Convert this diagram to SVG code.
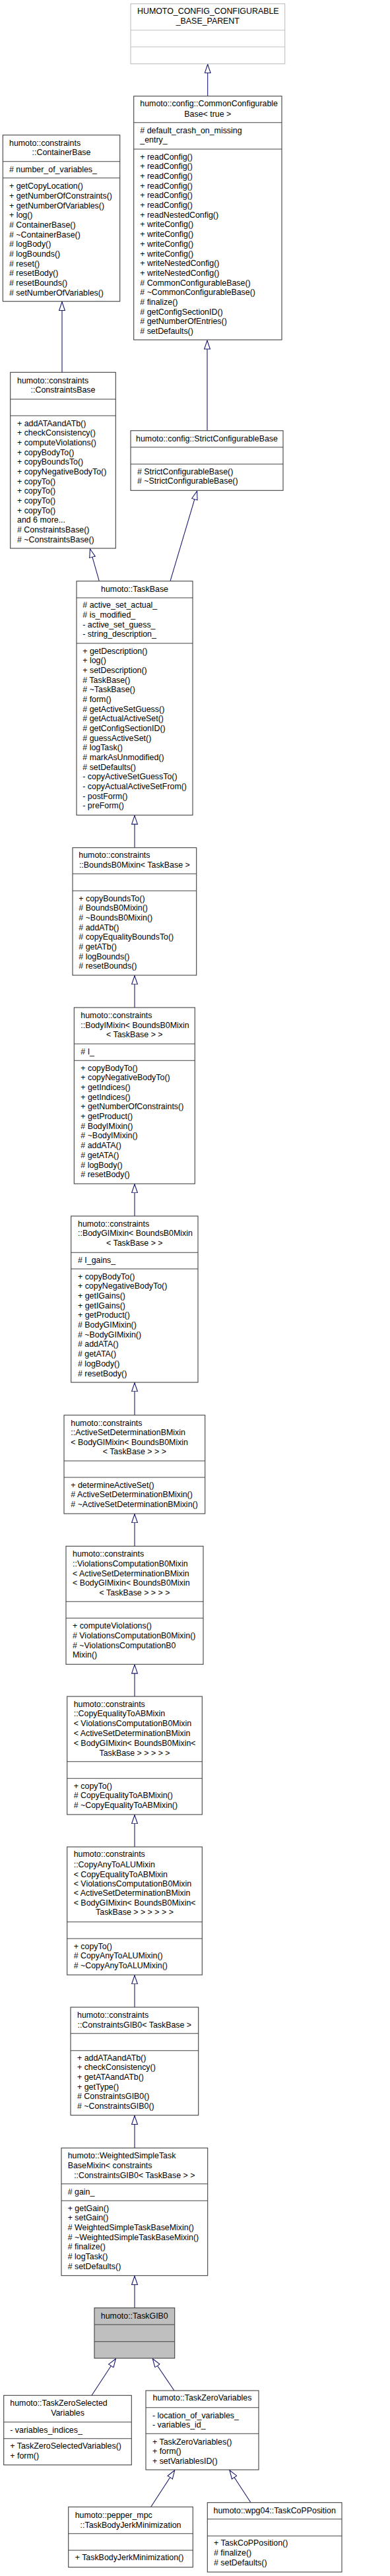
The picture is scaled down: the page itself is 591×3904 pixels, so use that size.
<svg xmlns="http://www.w3.org/2000/svg" width="591" height="3904" viewBox="0 0 591 3904">
<style>
.box{fill:#ffffff;stroke:#404040;stroke-width:1.1}
.ext{fill:#ffffff;stroke:#bfbfbf;stroke-width:1.1}
.cur{fill:#bfbfbf;stroke:#404040;stroke-width:1.1}
.sep{stroke:#404040;stroke-width:1.1}
.sepx{stroke:#bfbfbf;stroke-width:1.1}
text{font-family:"Liberation Sans",Arial,sans-serif;font-size:12.4px;fill:#000000}
.c{text-anchor:middle}
.edge{fill:none;stroke:#191970;stroke-width:1.1;marker-end:url(#inh)}
</style>
<defs>
<marker id="inh" viewBox="0 0 14 10" refX="14" refY="5" markerWidth="14" markerHeight="10" markerUnits="userSpaceOnUse" orient="auto">
<path d="M0.5,0.6 L13.5,5 L0.5,9.4 Z" fill="#ffffff" stroke="#191970" stroke-width="1.1"/>
</marker>
</defs>
<rect width="591" height="3904" fill="#ffffff"/>

<g id="connectors">
<path class="edge" d="M314.7,145.7 L314.7,97"/>
<path class="edge" d="M314,652.7 L314,515.5"/>
<path class="edge" d="M94,564.3 L94,457"/>
<path class="edge" d="M150.3,880.7 L136.3,831.3"/>
<path class="edge" d="M258,880.7 L298.7,743.8"/>
<path class="edge" d="M204,1284.7 L204,1235.6"/>
<path class="edge" d="M204,1527 L204,1478.3"/>
<path class="edge" d="M204,1843 L204,1794.3"/>
<path class="edge" d="M204,2144.7 L204,2095.3"/>
<path class="edge" d="M204,2343.3 L204,2294.3"/>
<path class="edge" d="M204,2571 L204,2522.6"/>
<path class="edge" d="M204,2799 L204,2750.3"/>
<path class="edge" d="M204,3042 L204,2993.3"/>
<path class="edge" d="M204,3255.3 L204,3206"/>
<path class="edge" d="M204,3497.7 L204,3449"/>
<path class="edge" d="M139,3630.3 L175.7,3574.3"/>
<path class="edge" d="M264,3623 L231,3574.3"/>
<path class="edge" d="M228.7,3799.3 L265,3743.3"/>
<path class="edge" d="M380,3792.7 L347.7,3743.3"/>
</g>

<g id="node-humoto-config-configurable-base-parent">
<rect class="ext" x="198" y="5.7" width="233.7" height="91"/>
<line class="sepx" x1="198" y1="45.7" x2="431.7" y2="45.7"/>
<line class="sepx" x1="198" y1="71" x2="431.7" y2="71"/>
<text x="208" y="21.2">HUMOTO_CONFIG_CONFIGURABLE</text>
<text class="c" x="314.8" y="36.2">_BASE_PARENT</text>
</g>

<g id="node-common-configurable-base">
<rect class="box" x="202.7" y="145.7" width="224.3" height="369.3"/>
<line class="sep" x1="202.7" y1="185.7" x2="427" y2="185.7"/>
<line class="sep" x1="202.7" y1="226" x2="427" y2="226"/>
<text x="212.3" y="161.2">humoto::config::CommonConfigurable</text>
<text class="c" x="314.8" y="176.5">Base&lt; true &gt;</text>
<text x="212.3" y="201.8"># default_crash_on_missing<tspan x="212.3" dy="14.67">_entry_</tspan></text>
<text x="212.3" y="241.8">+ readConfig()<tspan x="212.3" dy="14.67">+ readConfig()</tspan><tspan x="212.3" dy="14.67">+ readConfig()</tspan><tspan x="212.3" dy="14.67">+ readConfig()</tspan><tspan x="212.3" dy="14.67">+ readConfig()</tspan><tspan x="212.3" dy="14.67">+ readConfig()</tspan><tspan x="212.3" dy="14.67">+ readNestedConfig()</tspan><tspan x="212.3" dy="14.67">+ writeConfig()</tspan><tspan x="212.3" dy="14.67">+ writeConfig()</tspan><tspan x="212.3" dy="14.67">+ writeConfig()</tspan><tspan x="212.3" dy="14.67">+ writeConfig()</tspan><tspan x="212.3" dy="14.67">+ writeNestedConfig()</tspan><tspan x="212.3" dy="14.67">+ writeNestedConfig()</tspan><tspan x="212.3" dy="14.67"># CommonConfigurableBase()</tspan><tspan x="212.3" dy="14.67"># ~CommonConfigurableBase()</tspan><tspan x="212.3" dy="14.67"># finalize()</tspan><tspan x="212.3" dy="14.67"># getConfigSectionID()</tspan><tspan x="212.3" dy="14.67"># getNumberOfEntries()</tspan><tspan x="212.3" dy="14.67"># setDefaults()</tspan></text>
</g>

<g id="node-container-base">
<rect class="box" x="4.3" y="204.7" width="177.4" height="252"/>
<line class="sep" x1="4.3" y1="244.7" x2="181.7" y2="244.7"/>
<line class="sep" x1="4.3" y1="269.7" x2="181.7" y2="269.7"/>
<text x="14" y="220.5">humoto::constraints</text>
<text class="c" x="93" y="234.5">::ContainerBase</text>
<text x="14" y="260.5"># number_of_variables_</text>
<text x="14" y="286.2">+ getCopyLocation()<tspan x="14" dy="14.67">+ getNumberOfConstraints()</tspan><tspan x="14" dy="14.67">+ getNumberOfVariables()</tspan><tspan x="14" dy="14.67">+ log()</tspan><tspan x="14" dy="14.67"># ContainerBase()</tspan><tspan x="14" dy="14.67"># ~ContainerBase()</tspan><tspan x="14" dy="14.67"># logBody()</tspan><tspan x="14" dy="14.67"># logBounds()</tspan><tspan x="14" dy="14.67"># reset()</tspan><tspan x="14" dy="14.67"># resetBody()</tspan><tspan x="14" dy="14.67"># resetBounds()</tspan><tspan x="14" dy="14.67"># setNumberOfVariables()</tspan></text>
</g>

<g id="node-constraints-base">
<rect class="box" x="15.7" y="564.3" width="159.6" height="266.7"/>
<line class="sep" x1="15.7" y1="605" x2="175.3" y2="605"/>
<line class="sep" x1="15.7" y1="630" x2="175.3" y2="630"/>
<text x="26" y="580.5">humoto::constraints</text>
<text class="c" x="95.5" y="594.5">::ConstraintsBase</text>
<text x="26" y="645.5">+ addATAandATb()<tspan x="26" dy="14.67">+ checkConsistency()</tspan><tspan x="26" dy="14.67">+ computeViolations()</tspan><tspan x="26" dy="14.67">+ copyBodyTo()</tspan><tspan x="26" dy="14.67">+ copyBoundsTo()</tspan><tspan x="26" dy="14.67">+ copyNegativeBodyTo()</tspan><tspan x="26" dy="14.67">+ copyTo()</tspan><tspan x="26" dy="14.67">+ copyTo()</tspan><tspan x="26" dy="14.67">+ copyTo()</tspan><tspan x="26" dy="14.67">+ copyTo()</tspan><tspan x="26" dy="14.67">and 6 more...</tspan><tspan x="26" dy="14.67"># ConstraintsBase()</tspan><tspan x="26" dy="14.67"># ~ConstraintsBase()</tspan></text>
</g>

<g id="node-strict-configurable-base">
<rect class="box" x="198" y="652.7" width="231" height="90.6"/>
<line class="sep" x1="198" y1="677.7" x2="429" y2="677.7"/>
<line class="sep" x1="198" y1="703.3" x2="429" y2="703.3"/>
<text class="c" x="313.5" y="668.5">humoto::config::StrictConfigurableBase</text>
<text x="208" y="718.5"># StrictConfigurableBase()<tspan x="208" dy="14.67"># ~StrictConfigurableBase()</tspan></text>
</g>

<g id="node-task-base">
<rect class="box" x="116" y="880.7" width="176" height="354.6"/>
<line class="sep" x1="116" y1="906" x2="292" y2="906"/>
<line class="sep" x1="116" y1="975" x2="292" y2="975"/>
<text class="c" x="204" y="896.5">humoto::TaskBase</text>
<text x="125.3" y="921.2"># active_set_actual_<tspan x="125.3" dy="14.67"># is_modified_</tspan><tspan x="125.3" dy="14.67">- active_set_guess_</tspan><tspan x="125.3" dy="14.67">- string_description_</tspan></text>
<text x="125.3" y="990.5">+ getDescription()<tspan x="125.3" dy="14.67">+ log()</tspan><tspan x="125.3" dy="14.67">+ setDescription()</tspan><tspan x="125.3" dy="14.67"># TaskBase()</tspan><tspan x="125.3" dy="14.67"># ~TaskBase()</tspan><tspan x="125.3" dy="14.67"># form()</tspan><tspan x="125.3" dy="14.67"># getActiveSetGuess()</tspan><tspan x="125.3" dy="14.67"># getActualActiveSet()</tspan><tspan x="125.3" dy="14.67"># getConfigSectionID()</tspan><tspan x="125.3" dy="14.67"># guessActiveSet()</tspan><tspan x="125.3" dy="14.67"># logTask()</tspan><tspan x="125.3" dy="14.67"># markAsUnmodified()</tspan><tspan x="125.3" dy="14.67"># setDefaults()</tspan><tspan x="125.3" dy="14.67">- copyActiveSetGuessTo()</tspan><tspan x="125.3" dy="14.67">- copyActualActiveSetFrom()</tspan><tspan x="125.3" dy="14.67">- postForm()</tspan><tspan x="125.3" dy="14.67">- preForm()</tspan></text>
</g>

<g id="node-bounds-b0-mixin">
<rect class="box" x="110" y="1284.7" width="187.7" height="193.3"/>
<line class="sep" x1="110" y1="1324.3" x2="297.7" y2="1324.3"/>
<line class="sep" x1="110" y1="1350" x2="297.7" y2="1350"/>
<text x="119.3" y="1300.2">humoto::constraints</text>
<text class="c" x="203.8" y="1314.5">::BoundsB0Mixin&lt; TaskBase &gt;</text>
<text x="119.3" y="1365.5">+ copyBoundsTo()<tspan x="119.3" dy="14.67"># BoundsB0Mixin()</tspan><tspan x="119.3" dy="14.67"># ~BoundsB0Mixin()</tspan><tspan x="119.3" dy="14.67"># addATb()</tspan><tspan x="119.3" dy="14.67"># copyEqualityBoundsTo()</tspan><tspan x="119.3" dy="14.67"># getATb()</tspan><tspan x="119.3" dy="14.67"># logBounds()</tspan><tspan x="119.3" dy="14.67"># resetBounds()</tspan></text>
</g>

<g id="node-body-i-mixin">
<rect class="box" x="112.3" y="1527" width="183" height="267"/>
<line class="sep" x1="112.3" y1="1582" x2="295.3" y2="1582"/>
<line class="sep" x1="112.3" y1="1607.3" x2="295.3" y2="1607.3"/>
<text x="122.3" y="1542.5">humoto::constraints</text>
<text x="122.3" y="1557.5">::BodyIMixin&lt; BoundsB0Mixin</text>
<text class="c" x="203.8" y="1571.8">&lt; TaskBase &gt; &gt;</text>
<text x="122.3" y="1597.8"># I_</text>
<text x="122.3" y="1622.8">+ copyBodyTo()<tspan x="122.3" dy="14.67">+ copyNegativeBodyTo()</tspan><tspan x="122.3" dy="14.67">+ getIndices()</tspan><tspan x="122.3" dy="14.67">+ getIndices()</tspan><tspan x="122.3" dy="14.67">+ getNumberOfConstraints()</tspan><tspan x="122.3" dy="14.67">+ getProduct()</tspan><tspan x="122.3" dy="14.67"># BodyIMixin()</tspan><tspan x="122.3" dy="14.67"># ~BodyIMixin()</tspan><tspan x="122.3" dy="14.67"># addATA()</tspan><tspan x="122.3" dy="14.67"># getATA()</tspan><tspan x="122.3" dy="14.67"># logBody()</tspan><tspan x="122.3" dy="14.67"># resetBody()</tspan></text>
</g>

<g id="node-body-gi-mixin">
<rect class="box" x="107.7" y="1843" width="192.3" height="252"/>
<line class="sep" x1="107.7" y1="1898.3" x2="300" y2="1898.3"/>
<line class="sep" x1="107.7" y1="1923" x2="300" y2="1923"/>
<text x="118" y="1858.8">humoto::constraints</text>
<text x="118" y="1873.2">::BodyGIMixin&lt; BoundsB0Mixin</text>
<text class="c" x="203.8" y="1888.2">&lt; TaskBase &gt; &gt;</text>
<text x="118" y="1913.5"># I_gains_</text>
<text x="118" y="1938.8">+ copyBodyTo()<tspan x="118" dy="14.67">+ copyNegativeBodyTo()</tspan><tspan x="118" dy="14.67">+ getIGains()</tspan><tspan x="118" dy="14.67">+ getIGains()</tspan><tspan x="118" dy="14.67">+ getProduct()</tspan><tspan x="118" dy="14.67"># BodyGIMixin()</tspan><tspan x="118" dy="14.67"># ~BodyGIMixin()</tspan><tspan x="118" dy="14.67"># addATA()</tspan><tspan x="118" dy="14.67"># getATA()</tspan><tspan x="118" dy="14.67"># logBody()</tspan><tspan x="118" dy="14.67"># resetBody()</tspan></text>
</g>

<g id="node-active-set-determination-b-mixin">
<rect class="box" x="97" y="2144.7" width="213.7" height="149.3"/>
<line class="sep" x1="97" y1="2214" x2="310.7" y2="2214"/>
<line class="sep" x1="97" y1="2239" x2="310.7" y2="2239"/>
<text x="107.3" y="2160.5">humoto::constraints</text>
<text x="107.3" y="2174.5">::ActiveSetDeterminationBMixin</text>
<text x="107.3" y="2189.5">&lt; BodyGIMixin&lt; BoundsB0Mixin</text>
<text class="c" x="203.8" y="2203.8">&lt; TaskBase &gt; &gt; &gt;</text>
<text x="107.3" y="2254.8">+ determineActiveSet()<tspan x="107.3" dy="14.67"># ActiveSetDeterminationBMixin()</tspan><tspan x="107.3" dy="14.67"># ~ActiveSetDeterminationBMixin()</tspan></text>
</g>

<g id="node-violations-computation-b0-mixin">
<rect class="box" x="100" y="2343.3" width="208" height="179"/>
<line class="sep" x1="100" y1="2427.3" x2="308" y2="2427.3"/>
<line class="sep" x1="100" y1="2452.3" x2="308" y2="2452.3"/>
<text x="110" y="2358.8">humoto::constraints</text>
<text x="110" y="2373.5">::ViolationsComputationB0Mixin</text>
<text x="110" y="2388.5">&lt; ActiveSetDeterminationBMixin</text>
<text x="110" y="2402.8">&lt; BodyGIMixin&lt; BoundsB0Mixin</text>
<text class="c" x="204" y="2417.5">&lt; TaskBase &gt; &gt; &gt; &gt;</text>
<text x="110" y="2468.2">+ computeViolations()<tspan x="110" dy="14.67"># ViolationsComputationB0Mixin()</tspan><tspan x="110" dy="14.67"># ~ViolationsComputationB0</tspan><tspan x="110" dy="14.67">Mixin()</tspan></text>
</g>

<g id="node-copy-equality-to-ab-mixin">
<rect class="box" x="101.7" y="2571" width="204.6" height="179"/>
<line class="sep" x1="101.7" y1="2669.7" x2="306.3" y2="2669.7"/>
<line class="sep" x1="101.7" y1="2695.3" x2="306.3" y2="2695.3"/>
<text x="111.7" y="2586.8">humoto::constraints</text>
<text x="111.7" y="2601.2">::CopyEqualityToABMixin</text>
<text x="111.7" y="2616.2">&lt; ViolationsComputationB0Mixin</text>
<text x="111.7" y="2630.5">&lt; ActiveSetDeterminationBMixin</text>
<text x="111.7" y="2645.5">&lt; BodyGIMixin&lt; BoundsB0Mixin&lt;</text>
<text class="c" x="204" y="2660.5">TaskBase &gt; &gt; &gt; &gt; &gt;</text>
<text x="111.7" y="2710.5">+ copyTo()<tspan x="111.7" dy="14.67"># CopyEqualityToABMixin()</tspan><tspan x="111.7" dy="14.67"># ~CopyEqualityToABMixin()</tspan></text>
</g>

<g id="node-copy-any-to-alu-mixin">
<rect class="box" x="101.7" y="2799" width="204.6" height="194"/>
<line class="sep" x1="101.7" y1="2912.7" x2="306.3" y2="2912.7"/>
<line class="sep" x1="101.7" y1="2938" x2="306.3" y2="2938"/>
<text x="111.7" y="2814.2">humoto::constraints</text>
<text x="111.7" y="2829.5">::CopyAnyToALUMixin</text>
<text x="111.7" y="2844.5">&lt; CopyEqualityToABMixin</text>
<text x="111.7" y="2858.5">&lt; ViolationsComputationB0Mixin</text>
<text x="111.7" y="2873.2">&lt; ActiveSetDeterminationBMixin</text>
<text x="111.7" y="2887.8">&lt; BodyGIMixin&lt; BoundsB0Mixin&lt;</text>
<text class="c" x="204" y="2902.2">TaskBase &gt; &gt; &gt; &gt; &gt; &gt;</text>
<text x="111.7" y="2953.8">+ copyTo()<tspan x="111.7" dy="14.67"># CopyAnyToALUMixin()</tspan><tspan x="111.7" dy="14.67"># ~CopyAnyToALUMixin()</tspan></text>
</g>

<g id="node-constraints-gib0">
<rect class="box" x="107" y="3042" width="193.7" height="163.7"/>
<line class="sep" x1="107" y1="3081.7" x2="300.7" y2="3081.7"/>
<line class="sep" x1="107" y1="3107.7" x2="300.7" y2="3107.7"/>
<text x="117" y="3057.5">humoto::constraints</text>
<text class="c" x="203.8" y="3072.5">::ConstraintsGIB0&lt; TaskBase &gt;</text>
<text x="117" y="3122.8">+ addATAandATb()<tspan x="117" dy="14.67">+ checkConsistency()</tspan><tspan x="117" dy="14.67">+ getATAandATb()</tspan><tspan x="117" dy="14.67">+ getType()</tspan><tspan x="117" dy="14.67"># ConstraintsGIB0()</tspan><tspan x="117" dy="14.67"># ~ConstraintsGIB0()</tspan></text>
</g>

<g id="node-weighted-simple-task-base-mixin">
<rect class="box" x="93" y="3255.3" width="221.7" height="193.4"/>
<line class="sep" x1="93" y1="3309.7" x2="314.7" y2="3309.7"/>
<line class="sep" x1="93" y1="3335.3" x2="314.7" y2="3335.3"/>
<text x="102.7" y="3270.5">humoto::WeightedSimpleTask</text>
<text x="102.7" y="3285.5">BaseMixin&lt; constraints</text>
<text class="c" x="203.8" y="3300.5">::ConstraintsGIB0&lt; TaskBase &gt; &gt;</text>
<text x="102.7" y="3325.8"># gain_</text>
<text x="102.7" y="3350.5">+ getGain()<tspan x="102.7" dy="14.67">+ setGain()</tspan><tspan x="102.7" dy="14.67"># WeightedSimpleTaskBaseMixin()</tspan><tspan x="102.7" dy="14.67"># ~WeightedSimpleTaskBaseMixin()</tspan><tspan x="102.7" dy="14.67"># finalize()</tspan><tspan x="102.7" dy="14.67"># logTask()</tspan><tspan x="102.7" dy="14.67"># setDefaults()</tspan></text>
</g>

<g id="node-task-gib0">
<rect class="cur" x="143" y="3497.7" width="121.7" height="76.3"/>
<line class="sep" x1="143" y1="3523" x2="264.7" y2="3523"/>
<line class="sep" x1="143" y1="3548.7" x2="264.7" y2="3548.7"/>
<text class="c" x="203.8" y="3513.5">humoto::TaskGIB0</text>
</g>

<g id="node-task-zero-selected-variables">
<rect class="box" x="5.7" y="3630.3" width="193.6" height="105.4"/>
<line class="sep" x1="5.7" y1="3670.7" x2="199.3" y2="3670.7"/>
<line class="sep" x1="5.7" y1="3695.7" x2="199.3" y2="3695.7"/>
<text x="15.3" y="3646.2">humoto::TaskZeroSelected</text>
<text class="c" x="102.5" y="3660.5">Variables</text>
<text x="15.3" y="3686.5">- variables_indices_</text>
<text x="15.3" y="3711.2">+ TaskZeroSelectedVariables()<tspan x="15.3" dy="14.67">+ form()</tspan></text>
</g>

<g id="node-task-zero-variables">
<rect class="box" x="221" y="3623" width="171" height="120"/>
<line class="sep" x1="221" y1="3648.7" x2="392" y2="3648.7"/>
<line class="sep" x1="221" y1="3688.3" x2="392" y2="3688.3"/>
<text class="c" x="306.5" y="3638.2">humoto::TaskZeroVariables</text>
<text x="231" y="3664.5">- location_of_variables_<tspan x="231" dy="14.67">- variables_id_</tspan></text>
<text x="231" y="3704.5">+ TaskZeroVariables()<tspan x="231" dy="14.67">+ form()</tspan><tspan x="231" dy="14.67">+ setVariablesID()</tspan></text>
</g>

<g id="node-task-body-jerk-minimization">
<rect class="box" x="103.7" y="3799.3" width="188.6" height="91.4"/>
<line class="sep" x1="103.7" y1="3839.7" x2="292.3" y2="3839.7"/>
<line class="sep" x1="103.7" y1="3865" x2="292.3" y2="3865"/>
<text x="113.7" y="3815.5">humoto::pepper_mpc</text>
<text class="c" x="198" y="3830.5">::TaskBodyJerkMinimization</text>
<text x="113.7" y="3879.8">+ TaskBodyJerkMinimization()</text>
</g>

<g id="node-task-cop-position">
<rect class="box" x="314.3" y="3792.7" width="203.7" height="105.3"/>
<line class="sep" x1="314.3" y1="3817.7" x2="518" y2="3817.7"/>
<line class="sep" x1="314.3" y1="3843.3" x2="518" y2="3843.3"/>
<text class="c" x="416.2" y="3808.5">humoto::wpg04::TaskCoPPosition</text>
<text x="324" y="3858.2">+ TaskCoPPosition()<tspan x="324" dy="14.67"># finalize()</tspan><tspan x="324" dy="14.67"># setDefaults()</tspan></text>
</g>
</svg>
